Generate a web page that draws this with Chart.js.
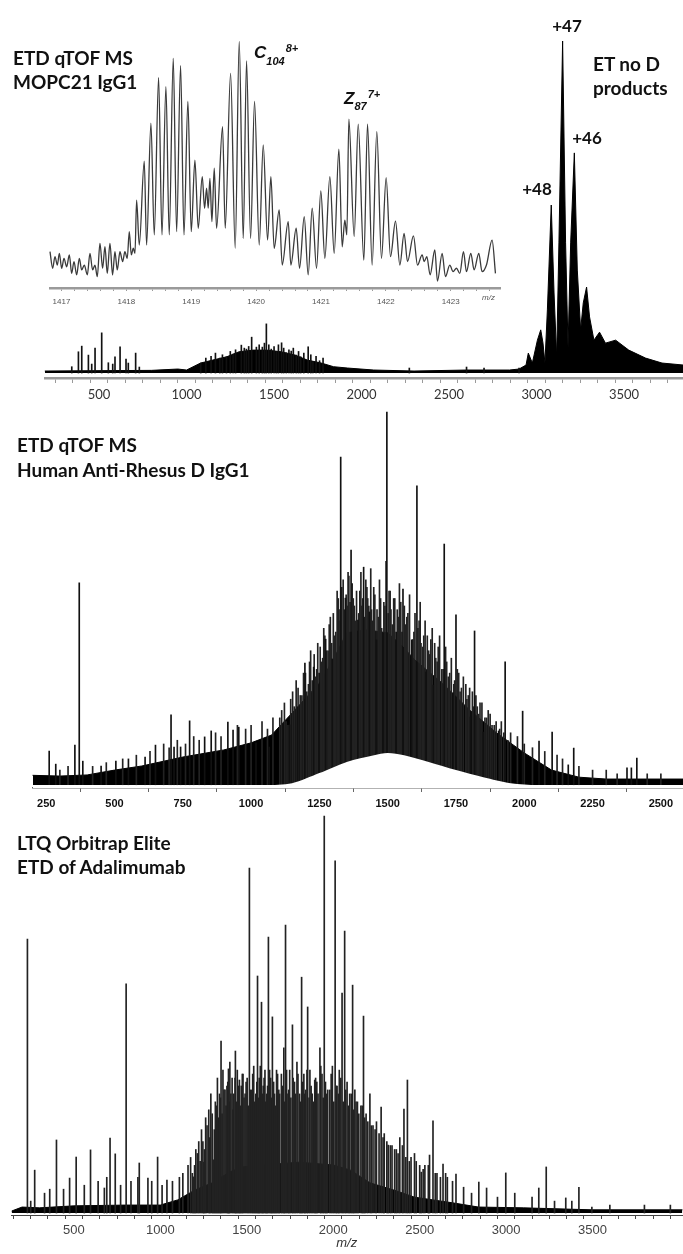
<!DOCTYPE html>
<html>
<head>
<meta charset="utf-8">
<script src="https://cdn.jsdelivr.net/npm/chart.js@4.4.1/dist/chart.umd.min.js"></script>
<style>
	html, body { margin: 0; padding: 0; background: #fff; }
	#page { position: relative; width: 683px; height: 1254px; overflow: hidden; background: #fff; }
	#page canvas { position: absolute; left: 0; }
	.ttl { position: absolute; font-family: Lato, "Open Sans", sans-serif; font-weight: 700; font-size: 19px; color: #111; white-space: nowrap; }
	.chg { position: absolute; font-family: Lato, "Open Sans", sans-serif; font-weight: 700; font-size: 17px; color: #111; transform: translate(-50%, -50%); white-space: nowrap; }
	.ion { position: absolute; font-family: "Liberation Sans", Arial, sans-serif; font-weight: 700; font-style: italic; font-size: 17px; line-height: 17px; color: #111; white-space: nowrap; }
	.ion span { position: relative; font-size: 11px; }
	.mz { position: absolute; font-family: "Liberation Sans", Arial, sans-serif; font-style: italic; font-size: 8px; color: #555; }
</style>
</head>
<body>
<div id="page">
	<canvas id="spec1" width="683" height="410" style="top:0px"></canvas>
	<canvas id="inset" width="683" height="320" style="top:0px"></canvas>
	<canvas id="spec2" width="683" height="420" style="top:400px"></canvas>
	<canvas id="spec3" width="683" height="454" style="top:800px"></canvas>

	<div class="ttl" style="left:13px; top:46px; line-height:24px">ETD qTOF MS<br>MOPC21 IgG1</div>
	<div class="ttl" style="left:593px; top:52px; line-height:24px">ET no D<br>products</div>
	<div class="chg" style="left:567px; top:25px">+47</div>
	<div class="chg" style="left:587px; top:137px">+46</div>
	<div class="chg" style="left:537px; top:188px">+48</div>
	<div class="ion" style="left:254px; top:44px">C<span style="top:7px">104</span><span style="top:-6px; margin-left:1px">8+</span></div>
	<div class="ion" style="left:344px; top:90px">Z<span style="top:6px">87</span><span style="top:-6px; margin-left:1px">7+</span></div>
	<div class="mz" style="left:482px; top:293px">m/z</div>

	<div class="ttl" style="left:17px; top:432px; line-height:25px">ETD qTOF MS<br>Human Anti-Rhesus D IgG1</div>
	<div class="ttl" style="left:17px; top:831px; line-height:24px">LTQ Orbitrap Elite<br>ETD of Adalimumab</div>
</div>

<script>
// ---- panel 1 : ETD qTOF MS, MOPC21 IgG1 (relative intensity, %)
var p1PeakMz  = [344, 382, 401, 439, 458, 477, 515, 553, 578, 591, 620, 654, 667, 709, 730,
	1081, 1190, 1228, 1266, 1313, 1342, 1372, 1399, 1433, 1456, 1484, 1513, 1543, 1570, 1598,
	1627, 1652, 1695, 1722, 1760, 2273];
var p1PeakInt = [1.9, 6.4, 8.1, 5.4, 2.7, 7.5, 12.1, 3.1, 2.7, 4.9, 7.9, 4.2, 3.0, 6.0, 1.8,
	3.0, 4.5, 4.9, 5.7, 8.4, 7.2, 10.8, 7.8, 7.8, 14.8, 7.2, 6.4, 9.1, 6.1, 6.6,
	5.4, 4.9, 7.9, 3.4, 3.7, 1.5];
var p1HashMz  = [1110, 1140, 1165, 1205, 1250, 1280, 1330, 1355, 1415, 1445, 1470, 1500, 1525,
	1555, 1585, 1610, 1640, 1670, 1710, 1740, 1780, 2600, 2700, 2900];
var p1HashInt = [4.5, 5.0, 6.0, 5.5, 6.5, 7.0, 7.5, 8.0, 8.5, 9.0, 8.5, 8.0, 8.5,
	7.5, 7.0, 7.5, 6.5, 6.0, 5.5, 5.0, 4.5, 1.8, 1.5, 1.5];
var p1EnvMz  = [190, 800, 950, 1000, 1080, 1150, 1230, 1300, 1380, 1460, 1540, 1620, 1690, 1770,
	1840, 1920, 2070, 2300, 2600, 2845, 2900, 2940, 2953, 2976, 3005, 3024, 3037, 3048, 3062,
	3084, 3100, 3115, 3128, 3149, 3166, 3180, 3195, 3216, 3233, 3252, 3267, 3286, 3303, 3328,
	3360, 3394, 3452, 3527, 3623, 3717, 3840];
var p1EnvInt = [0.6, 0.8, 1.2, 0.9, 3.0, 3.9, 4.9, 6.4, 6.9, 6.9, 6.4, 5.4, 3.9, 3.0,
	1.9, 1.5, 0.9, 0.6, 0.9, 0.9, 1.2, 2.4, 6.0, 3.0, 9.9, 13.0, 9.0, 3.0, 19.0,
	50.6, 24.1, 4.8, 39.2, 100, 39.2, 7.8, 39.2, 66.3, 31.0, 13.0, 21.1, 25.9, 16.9, 9.9,
	12.3, 9.0, 9.9, 6.9, 4.5, 3.0, 2.4];
var p1Labels = [500, 1000, 1500, 2000, 2500, 3000, 3500];

// ---- inset : isotope clusters 1417 - 1423.7 m/z
var insetMz = [1416.823, 1416.864, 1416.900, 1416.936, 1416.967, 1417.003, 1417.039, 1417.080,
	1417.121, 1417.157, 1417.193, 1417.234, 1417.275, 1417.311, 1417.352, 1417.398, 1417.439,
	1417.480, 1417.516, 1417.552, 1417.593, 1417.634, 1417.670, 1417.706, 1417.747, 1417.788,
	1417.824, 1417.860, 1417.901, 1417.943, 1417.978, 1418.014, 1418.045, 1418.076, 1418.107,
	1418.133, 1418.158, 1418.199, 1418.276, 1418.312, 1418.379, 1418.430, 1418.497, 1418.549,
	1418.610, 1418.661, 1418.723, 1418.775, 1418.836, 1418.888, 1418.949, 1419.000, 1419.057,
	1419.108, 1419.170, 1419.206, 1419.237, 1419.262, 1419.288, 1419.319, 1419.355, 1419.391,
	1419.483, 1419.524, 1419.607, 1419.678, 1419.740, 1419.802, 1419.853, 1419.915, 1419.976,
	1420.048, 1420.110, 1420.177, 1420.228, 1420.279, 1420.356, 1420.403, 1420.495, 1420.536,
	1420.618, 1420.670, 1420.742, 1420.803, 1420.865, 1420.932, 1420.998, 1421.060, 1421.137,
	1421.204, 1421.276, 1421.327, 1421.368, 1421.399, 1421.430, 1421.512, 1421.574, 1421.661,
	1421.718, 1421.789, 1421.861, 1421.933, 1422.005, 1422.072, 1422.149, 1422.216, 1422.282,
	1422.334, 1422.426, 1422.488, 1422.560, 1422.591, 1422.632, 1422.683, 1422.755, 1422.796,
	1422.868, 1422.919, 1422.986, 1423.037, 1423.089, 1423.140, 1423.197, 1423.243, 1423.310,
	1423.361, 1423.433, 1423.484, 1423.551, 1423.638, 1423.690];
var insetInt = [14.7, 8.0, 12.7, 9.3, 14.0, 8.0, 12.0, 8.6,
	13.4, 5.9, 10.7, 5.3, 12.0, 7.3, 9.3, 5.3, 14.0,
	7.3, 9.3, 4.6, 18.1, 8.0, 16.7, 5.9, 18.1, 5.3,
	14.7, 7.3, 14.7, 10.7, 14.7, 12.0, 22.8, 13.4, 16.1,
	14.0, 35.6, 17.4, 51.4, 17.4, 66.7, 21.5, 85.2, 21.5,
	81.5, 21.5, 93.0, 22.8, 90.0, 21.5, 75.5, 22.8, 51.8,
	24.2, 45.1, 32.3, 40.4, 32.3, 44.4, 26.9, 48.5, 24.2,
	65.3, 24.2, 86.9, 16.1, 99.8, 20.1, 91.9, 20.1, 75.5,
	17.4, 57.9, 19.4, 45.1, 16.1, 31.6, 9.3, 26.9, 9.3,
	24.2, 8.0, 28.9, 5.3, 32.3, 8.0, 39.3, 12.0, 45.1,
	14.0, 56.2, 16.7, 27.5, 21.5, 68.4, 20.8, 66.3, 11.3,
	66.3, 9.3, 63.3, 12.0, 44.7, 12.7, 27.1, 9.3, 22.1,
	10.7, 21.1, 9.3, 13.4, 10.7, 12.7, 5.3, 15.4, 2.8,
	14.0, 4.6, 9.3, 6.6, 8.0, 5.9, 14.7, 6.6, 14.0,
	7.3, 14.0, 6.6, 9.3, 19.4, 5.9];
var insetLabels = [1417, 1418, 1419, 1420, 1421, 1422, 1423];

// ---- panel 2 : ETD qTOF MS, Human Anti-Rhesus D IgG1
var p2PeakMz  = [261, 285, 355, 371, 384, 451, 505, 551, 612, 650, 707, 718, 742, 775, 830, 854,
	915, 934, 955, 1018, 1066, 1117, 1141, 1170, 1197, 1229, 1249, 1273, 1297, 1328, 1345, 1366,
	1391, 1412, 1433, 1459, 1484, 1497, 1531, 1556, 1588, 1607, 1640, 1667, 1707, 1739, 1750,
	1803, 1818, 1850, 1906, 1930, 1994, 2054, 2102, 2161, 2181, 2376, 2392, 2412];
var p2PeakInt = [9.1, 5.6, 10.7, 54.2, 6.4, 5.1, 6.4, 7.0, 7.5, 10.7, 18.8, 10.2, 10.2, 17.2, 12.9, 14.5,
	16.9, 14.7, 15.5, 11.3, 10.2, 12.1, 16.1, 20.9, 32.7, 31.6, 30.0, 39.1, 33.8, 87.9, 50.1, 63.0,
	44.2, 58.4, 46.4, 38.9, 40.8, 100, 41.0, 52.5, 38.9, 80.2, 30.3, 26.8, 64.6, 24.7, 45.6,
	18.2, 41.3, 14.2, 14.5, 33.0, 19.8, 11.8, 14.2, 5.4, 9.9, 4.6, 4.6, 7.2];
var p2HashMz  = [300, 330, 420, 470, 530, 580, 630, 680, 700, 730, 760, 790, 810, 870, 890, 950,
	980, 1000, 1040, 1060, 1080, 1105, 1122, 1135, 1152, 1165, 1180, 1192, 1210, 1218, 1236, 1244,
	1258, 1266, 1282, 1290, 1305, 1315, 1322, 1337, 1352, 1358, 1374, 1381, 1398, 1405, 1420, 1427,
	1441, 1449, 1466, 1474, 1490, 1505, 1512, 1522, 1540, 1548, 1565, 1574, 1596, 1615, 1622, 1632,
	1650, 1658, 1676, 1685, 1698, 1716, 1727, 1745, 1760, 1770, 1786, 1795, 1810, 1828, 1838, 1862,
	1875, 1890, 1916, 1950, 1975, 2000, 2030, 2075, 2120, 2140, 2200, 2250, 2300, 2340, 2450, 2500];
var p2HashInt = [4, 5, 5, 6, 7, 8, 9, 11, 10, 12, 11, 13, 12, 14, 13, 16,
	15, 16, 17, 15, 18, 18, 22, 16, 25, 28, 24, 30, 27, 36, 29, 38,
	33, 42, 36, 45, 40, 52, 47, 55, 48, 56, 50, 44, 52, 48, 55, 50,
	47, 53, 45, 50, 48, 52, 47, 50, 45, 49, 43, 46, 41, 44, 38, 40,
	36, 39, 34, 37, 31, 33, 30, 28, 30, 26, 27, 24, 25, 21, 22, 18,
	19, 16, 17, 14, 13, 11, 10, 9, 8, 7, 5, 4, 4, 3, 3, 3];
var p2Hash2Mz  = [1112, 1128, 1145, 1158, 1172, 1186, 1199, 1204, 1214, 1224, 1231, 1240, 1253, 1262,
	1270, 1277, 1286, 1295, 1301, 1310, 1319, 1326, 1332, 1341, 1348, 1355, 1362, 1370, 1378, 1386,
	1394, 1402, 1409, 1416, 1424, 1431, 1438, 1445, 1453, 1461, 1470, 1478, 1486, 1494, 1502, 1509,
	1517, 1526, 1535, 1543, 1552, 1561, 1570, 1580, 1591, 1600, 1611, 1619, 1628, 1637, 1645, 1654,
	1663, 1672, 1681, 1690, 1703, 1712, 1722, 1733, 1742, 1755, 1765, 1777, 1790, 1800, 1814, 1823,
	1833, 1845, 1856, 1868, 1882, 1897, 1910, 1925, 1940];
var p2Hash2Int = [20, 17, 23, 21, 26, 24, 30, 25, 33, 28, 35, 31, 37, 34,
	40, 36, 43, 38, 46, 41, 50, 44, 53, 47, 51, 57, 49, 54, 48, 52,
	46, 57, 50, 45, 53, 48, 58, 44, 51, 47, 55, 42, 49, 60, 46, 52,
	43, 50, 47, 54, 41, 48, 45, 51, 39, 46, 42, 49, 37, 44, 40, 35,
	42, 38, 33, 40, 31, 37, 29, 34, 27, 31, 25, 29, 23, 26, 21, 24,
	19, 22, 18, 20, 16, 17, 15, 14, 12];
var p2EnvMz  = [200, 300, 400, 500, 600, 750, 900, 1000, 1075, 1150, 1250, 1300, 1350, 1420,
	1500, 1550, 1600, 1700, 1800, 1900, 2000, 2100, 2200, 2300, 2585];
var p2EnvInt = [2.6, 2.4, 2.7, 4.0, 5.1, 7.5, 9.4, 11.3, 13.4, 19.3, 27.3, 33.5, 40.8, 41.6,
	40.8, 37.5, 33.5, 27.3, 20.1, 13.9, 8.6, 4.0, 2.1, 1.6, 1.6];
// white hollow under the hump (lower edge of the signal band)
var p2LowMz  = [200, 1050, 1150, 1250, 1350, 1450, 1500, 1560, 1650, 1750, 1850, 1950, 2050, 2585];
var p2LowInt = [0, 0, 0.5, 3.2, 6.2, 8.0, 8.6, 8.0, 6.2, 4.0, 2.1, 0.5, 0, 0];
var p2Labels = [250, 500, 750, 1000, 1250, 1500, 1750, 2000, 2250, 2500];

// ---- panel 3 : LTQ Orbitrap Elite, ETD of Adalimumab
var p3PeakMz  = [231, 273, 399, 475, 513, 596, 676, 709, 739, 802, 878, 928, 984, 1038, 1192,
	1250, 1306, 1351, 1374, 1394, 1434, 1457, 1515, 1562, 1585, 1625, 1648, 1714, 1724, 1764,
	1817, 1852, 1893, 1923, 1948, 1980, 2011, 2051, 2066, 2112, 2175, 2212, 2277, 2318, 2409,
	2429, 2509, 2557, 2577, 2635, 2710, 2754, 2842, 2887, 2998, 3189, 3232, 3345, 3421, 3496];
var p3PeakInt = [69.0, 10.8, 18.4, 8.8, 14.1, 15.9, 6.3, 18.9, 14.9, 57.7, 12.6, 8.8, 14.1, 8.3, 9.1,
	12.8, 13.4, 43.3, 31.0, 36.3, 40.8, 33.5, 86.9, 59.7, 53.1, 69.5, 49.4, 41.6, 72.5, 47.4,
	59.4, 51.9, 33.5, 41.6, 100, 31.0, 88.7, 55.4, 71.0, 57.4, 49.6, 30.0, 26.7, 17.1, 26.2,
	33.5, 10.3, 14.6, 23.2, 12.3, 9.8, 6.5, 7.8, 6.3, 10.1, 6.3, 11.6, 3.8, 6.5, 1.5];
var p3HashMz  = [250, 330, 360, 440, 560, 640, 690, 770, 830, 870, 950, 1010, 1070, 1110, 1130,
	1160, 1175, 1205, 1222, 1238, 1262, 1280, 1292, 1318, 1330, 1342, 1362, 1385, 1402, 1415, 1425,
	1445, 1468, 1478, 1490, 1502, 1528, 1540, 1552, 1572, 1595, 1605, 1615, 1638, 1660, 1672, 1685,
	1700, 1738, 1748, 1776, 1790, 1805, 1830, 1840, 1865, 1878, 1905, 1935, 1960, 1995, 2022, 2035,
	2080, 2095, 2125, 2140, 2160, 2190, 2230, 2250, 2295, 2340, 2365, 2385, 2450, 2480, 2530, 2600,
	2660, 2800, 2950, 3050, 3150, 3280, 3380, 3600, 3800, 3950];
var p3HashInt = [3, 5, 6, 6, 7, 8, 9, 7, 8, 9, 8, 7, 8, 9, 10,
	12, 14, 16, 18, 21, 24, 26, 30, 28, 34, 30, 36, 32, 38, 34, 30,
	36, 32, 35, 30, 34, 31, 37, 30, 34, 32, 36, 30, 34, 30, 36, 31,
	35, 30, 36, 33, 38, 30, 35, 31, 36, 30, 33, 35, 30, 37, 32, 36,
	33, 30, 31, 28, 27, 25, 22, 23, 20, 17, 16, 19, 14, 13, 12, 10,
	9, 5, 4, 5, 4, 3, 3, 2, 2, 2];
var p3Hash2Mz  = [1185, 1198, 1214, 1230, 1246, 1255, 1270, 1286, 1300, 1312, 1324, 1336, 1348, 1357,
	1368, 1380, 1390, 1398, 1408, 1420, 1432, 1440, 1452, 1462, 1474, 1484, 1496, 1508, 1520, 1534,
	1546, 1558, 1568, 1578, 1590, 1600, 1610, 1620, 1632, 1644, 1655, 1666, 1678, 1690, 1706, 1718,
	1730, 1742, 1755, 1768, 1782, 1796, 1810, 1822, 1835, 1848, 1860, 1872, 1885, 1898, 1912, 1928,
	1942, 1955, 1968, 1988, 2003, 2018, 2030, 2044, 2058, 2072, 2088, 2104, 2118, 2132, 2148, 2168,
	2182, 2200, 2220, 2242, 2265, 2288, 2310, 2330, 2355, 2375, 2400, 2420, 2440, 2470, 2500, 2520,
	2550, 2590, 2620, 2650, 2690];
var p3Hash2Int = [10, 12, 15, 13, 18, 16, 22, 19, 25, 21, 27, 24, 29, 25,
	31, 27, 33, 28, 30, 26, 34, 28, 32, 27, 35, 29, 33, 27, 31, 35,
	28, 33, 29, 37, 30, 34, 28, 32, 36, 29, 33, 27, 35, 30, 32, 28,
	36, 31, 29, 34, 30, 35, 28, 33, 30, 36, 29, 32, 28, 34, 30, 37,
	29, 33, 31, 35, 28, 32, 30, 34, 28, 31, 27, 30, 26, 28, 25, 27,
	24, 23, 22, 21, 20, 19, 18, 17, 16, 15, 17, 14, 13, 15, 12, 11,
	12, 10, 9, 10, 8];
var p3EnvMz  = [140, 200, 300, 500, 800, 1000, 1100, 1200, 1300, 1400, 1470, 1600, 1800, 2000,
	2100, 2212, 2350, 2470, 2700, 2840, 3100, 3500, 4020];
var p3EnvInt = [0.5, 1.5, 1.3, 1.8, 2.0, 2.0, 3.3, 5.8, 7.6, 10.3, 11.6, 12.1, 12.8, 12.1,
	10.8, 7.6, 5.8, 4.0, 2.5, 1.5, 1.3, 0.8, 0.8];
var p3Labels = [500, 1000, 1500, 2000, 2500, 3000, 3500];

function pairs(xs, ys){
	var out = [];
	for(var i = 0; i < xs.length; i++){
		out.push({x: xs[i], y: ys[i]});
	}
	return out;
}

// tick marks every `step` between first and last, labels only where listed
function tickValues(first, last, step){
	var out = [];
	var n = Math.round((last - first) / step);
	for(var i = 0; i <= n; i++){
		out.push(+(first + i * step).toFixed(3));
	}
	return out;
}

function xAxis(o){
	return {
		type: "linear",
		min: o.min,
		max: o.max,
		offset: false,
		afterBuildTicks: function(axis){
			axis.ticks = o.ticks.map(function(v){ return {value: v}; });
		},
		afterFit: function(axis){
			axis.height = o.axisH;
		},
		grid: {drawOnChartArea: false, drawTicks: true, tickLength: o.tickLen, color: o.axisColor, lineWidth: 1},
		border: {display: true, color: o.axisColor, width: o.axisWidth},
		ticks: {
			autoSkip: false,
			maxRotation: 0,
			padding: o.tickPad,
			color: o.tickColor,
			font: o.tickFont,
			callback: function(v){
				return o.labels.indexOf(+v.toFixed(3)) >= 0 ? String(v) : "";
			}
		},
		title: o.title || {display: false}
	};
}

function makeSpectrum(id, o){
	var datasets = [];
	datasets.push({
		type: "line",
		data: pairs(o.envMz, o.envInt),
		borderColor: "#000",
		backgroundColor: "#000",
		borderWidth: 1,
		pointRadius: 0,
		tension: 0,
		fill: "origin",
		order: 3
	});
	datasets.push({
		type: "bar",
		data: pairs(o.hashMz, o.hashInt),
		backgroundColor: o.hashColor,
		barThickness: 1,
		grouped: false,
		order: 2
	});
	if(o.hash2Mz){
		datasets.push({
			type: "bar",
			data: pairs(o.hash2Mz, o.hash2Int),
			backgroundColor: o.hashColor,
			barThickness: 1,
			grouped: false,
			order: 2
		});
	}
	datasets.push({
		type: "bar",
		data: pairs(o.peakMz, o.peakInt),
		backgroundColor: o.stickColor,
		barThickness: 1,
		grouped: false,
		order: 1
	});
	if(o.lowMz){
		// drawn last, blanks out everything below the lower edge
		datasets.push({
			type: "line",
			data: pairs(o.lowMz, o.lowInt),
			borderColor: "#fff",
			backgroundColor: "#fff",
			borderWidth: 0,
			pointRadius: 0,
			tension: 0.3,
			fill: {value: o.ymin},
			order: 0
		});
	}

	return new Chart(document.getElementById(id).getContext("2d"), {
		type: "bar",
		data: {datasets: datasets},
		options: {
			responsive: false,
			animation: false,
			devicePixelRatio: 1,
			clip: false,
			layout: {padding: {left: o.left, right: 0, top: o.top, bottom: 0}},
			plugins: {legend: {display: false}, tooltip: {enabled: false}},
			scales: {
				x: xAxis(o),
				y: {display: false, min: o.ymin, max: 100}
			}
		}
	});
}

makeSpectrum("spec1", {
	peakMz: p1PeakMz, peakInt: p1PeakInt,
	hashMz: p1HashMz, hashInt: p1HashInt,
	envMz: p1EnvMz, envInt: p1EnvInt,
	stickColor: "#111", hashColor: "#111",
	min: 191, max: 3837, ymin: -1.5,
	left: 45, top: 41, axisH: 32,
	ticks: tickValues(200, 3800, 100), labels: p1Labels,
	tickLen: 5, tickPad: 4, axisColor: "#9a9a9a", axisWidth: 2.5,
	tickColor: "#333", tickFont: {family: "Lato", size: 13}
});

makeSpectrum("spec2", {
	peakMz: p2PeakMz, peakInt: p2PeakInt,
	hashMz: p2HashMz, hashInt: p2HashInt,
	hash2Mz: p2Hash2Mz, hash2Int: p2Hash2Int,
	envMz: p2EnvMz, envInt: p2EnvInt,
	lowMz: p2LowMz, lowInt: p2LowInt,
	stickColor: "#111", hashColor: "#222",
	min: 201.7, max: 2581, ymin: -0.8,
	left: 33, top: 12, axisH: 32,
	ticks: p2Labels, labels: p2Labels,
	tickLen: 4, tickPad: 5, axisColor: "#666", axisWidth: 1.5,
	tickColor: "#111", tickFont: {family: "Liberation Sans", size: 11, weight: "bold"}
});

makeSpectrum("spec3", {
	peakMz: p3PeakMz, peakInt: p3PeakInt,
	hashMz: p3HashMz, hashInt: p3HashInt,
	hash2Mz: p3Hash2Mz, hash2Int: p3Hash2Int,
	envMz: p3EnvMz, envInt: p3EnvInt,
	stickColor: "#222", hashColor: "#222",
	min: 136, max: 4020, ymin: -0.5,
	left: 11, top: 16, axisH: 39,
	ticks: tickValues(200, 4000, 100), labels: p3Labels,
	tickLen: 4, tickPad: 4, axisColor: "#444", axisWidth: 1,
	tickColor: "#444", tickFont: {family: "Liberation Sans", size: 13},
	title: {display: true, text: "m/z", color: "#333", padding: {top: 0, bottom: 3},
		font: {family: "Liberation Sans", size: 13, style: "italic"}}
});

// zoomed isotope profile drawn over panel 1
new Chart(document.getElementById("inset").getContext("2d"), {
	type: "line",
	data: {
		datasets: [{
			data: pairs(insetMz, insetInt),
			borderColor: "#3a3a3a",
			borderWidth: 1.3,
			pointRadius: 0,
			cubicInterpolationMode: "monotone",
			fill: false
		}]
	},
	options: {
		responsive: false,
		animation: false,
		devicePixelRatio: 1,
		clip: false,
		layout: {padding: {left: 50, right: 183, top: 41, bottom: 0}},
		plugins: {legend: {display: false}, tooltip: {enabled: false}},
		scales: {
			x: xAxis({
				min: 1416.823, max: 1423.76, axisH: 32,
				ticks: tickValues(1417, 1423.6, 0.2), labels: insetLabels,
				tickLen: 3, tickPad: 6, axisColor: "#9a9a9a", axisWidth: 2.5,
				tickColor: "#555", tickFont: {family: "Liberation Sans", size: 8}
			}),
			y: {display: false, min: 0, max: 100}
		}
	}
});
</script>
</body>
</html>
